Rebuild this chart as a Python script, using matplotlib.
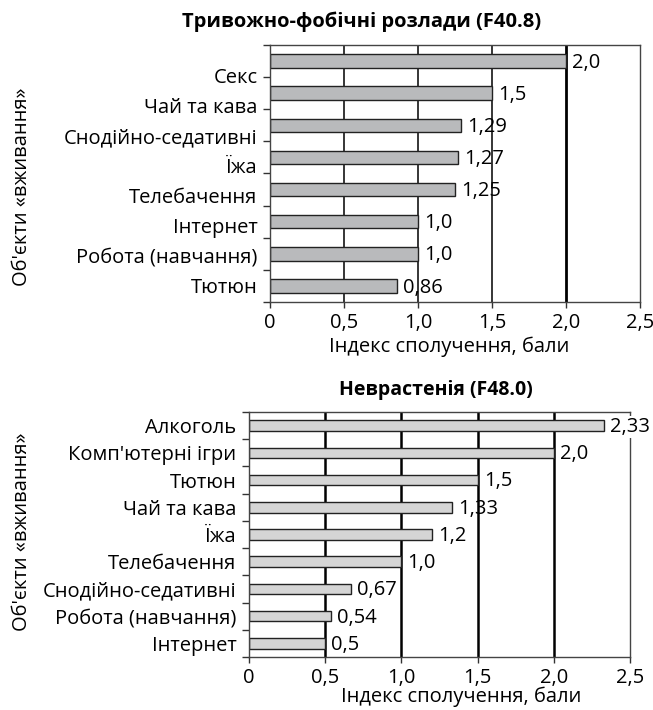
import matplotlib
matplotlib.use("Agg")
import matplotlib.pyplot as plt
import numpy as np

plt.rcParams["font.family"] = ["Open Sans", "DejaVu Sans"]

# Тривожно-фобічні розлади (F40.8)
top_cats = ["Секс", "Чай та кава", "Снодійно-седативні", "Їжа", "Телебачення",
            "Інтернет", "Робота (навчання)", "Тютюн"]
top_vals = [2.0, 1.5, 1.29, 1.27, 1.25, 1.0, 1.0, 0.86]
top_lbls = ["2,0", "1,5", "1,29", "1,27", "1,25", "1,0", "1,0", "0,86"]

# Неврастенія (F48.0)
bot_cats = ["Алкоголь", "Комп'ютерні ігри", "Тютюн", "Чай та кава", "Їжа",
            "Телебачення", "Снодійно-седативні", "Робота (навчання)", "Інтернет"]
bot_vals = [2.33, 2.0, 1.5, 1.33, 1.2, 1.0, 0.67, 0.54, 0.5]
bot_lbls = ["2,33", "2,0", "1,5", "1,33", "1,2", "1,0", "0,67", "0,54", "0,5"]

xticks = [0, 0.5, 1.0, 1.5, 2.0, 2.5]
xticklabels = ["0", "0,5", "1,0", "1,5", "2,0", "2,5"]

FS = 14.5
fig = plt.figure(figsize=(6.53, 7.10), dpi=100)


def draw(ax, cats, vals, lbls, color, bar_h, grid_w, label_pos):
    n = len(cats)
    y = np.arange(n)
    for x in xticks[1:-1]:
        ax.axvline(x, color="black", lw=grid_w(x), zorder=1)
    ax.barh(y, vals, height=bar_h, color=color, edgecolor="#222222", lw=1.0, zorder=2)
    for yi, v, s in zip(y, vals, lbls):
        kw = {}
        if v > 2.0:
            kw["bbox"] = dict(facecolor="white", edgecolor="none", pad=0.5)
        ax.text(v + 0.04, yi + 0.05, s, va="center", ha="left", fontsize=FS,
                zorder=3, clip_on=False, **kw)
    ax.set_xlim(0, 2.5)
    ax.set_ylim(n - 0.5, -0.5)
    ax.set_xticks(xticks)
    ax.set_xticklabels(xticklabels, fontsize=FS)
    # ticks on category boundaries, labels separately
    ax.set_yticks(np.arange(n + 1) - 0.5)
    ax.set_yticklabels([])
    ax.set_yticks(label_pos, minor=True)
    ax.set_yticklabels(cats, minor=True, fontsize=FS)
    ax.tick_params(axis="y", which="minor", length=0, pad=9)
    ax.tick_params(axis="y", which="major", length=5, width=1, color="#333333")
    ax.tick_params(axis="x", length=4, width=1, color="#333333", pad=4)
    for sp in ax.spines.values():
        sp.set_color("#444444")
        sp.set_linewidth(1.0)
    ax.set_ylabel("Об'єкти «вживання»", fontsize=FS)
    ax.set_xlabel("Індекс сполучення, бали", fontsize=FS)
    ax.xaxis.label.set_va("center")


ax1 = fig.add_axes([270 / 653, 1 - 302 / 710, 370 / 653, 257 / 710])
draw(ax1, top_cats, top_vals, top_lbls, "#b9babc", 0.42,
     lambda x: 2.0 if x == 2.0 else 1.1,
     0.45 + 0.932 * np.arange(len(top_cats)))
ax1.xaxis.set_label_coords(0.484, -0.175)
ax1.yaxis.set_label_coords(-0.643, 0.447)

ax2 = fig.add_axes([249 / 653, 1 - 657 / 710, 381 / 653, 245 / 710])
draw(ax2, bot_cats, bot_vals, bot_lbls, "#d5d5d5", 0.39,
     lambda x: 1.8,
     np.arange(len(bot_cats)))
ax2.xaxis.set_label_coords(0.556, -0.163)
ax2.yaxis.set_label_coords(-0.57, 0.51)

fig.text(362 / 653, 1 - 22 / 710, "Тривожно-фобічні розлади (F40.8)", ha="center",
         va="center", fontsize=14.5, fontweight="bold")
fig.text(436 / 653, 1 - 390 / 710, "Неврастенія (F48.0)", ha="center",
         va="center", fontsize=14, fontweight="bold")

fig.savefig("out.png", dpi=100, facecolor="white")
